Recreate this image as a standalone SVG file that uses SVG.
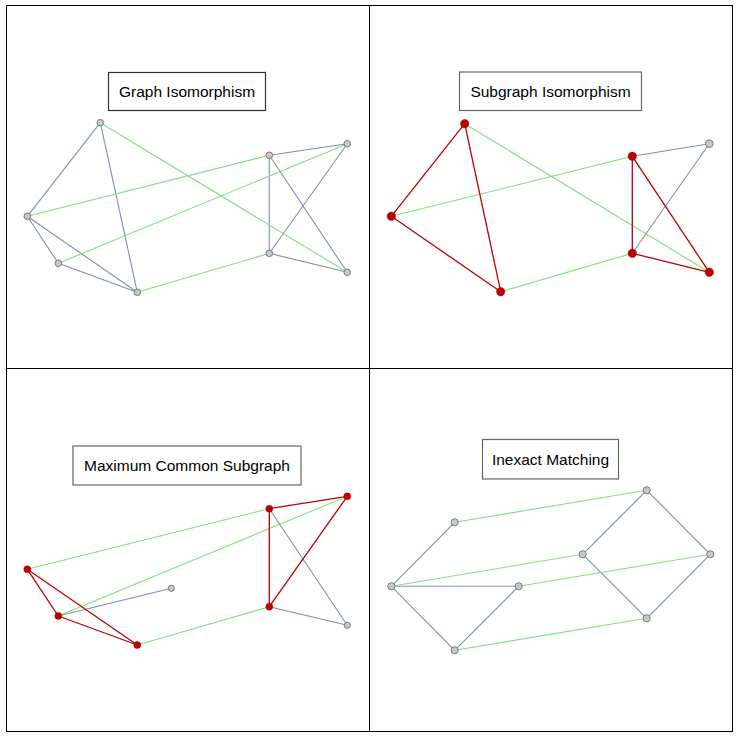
<svg xmlns="http://www.w3.org/2000/svg" width="739" height="737" viewBox="0 0 739 737">
<style>
.frame{fill:none;stroke:#000;stroke-width:1}
.lbl rect{fill:#fff;stroke:#333;stroke-width:1.2}
.lbl2 rect{stroke:#666}
.lbl text{font-family:"Liberation Sans",Arial,sans-serif;font-size:15.5px;fill:#000;text-anchor:middle}
.b{stroke:#7f8fae;stroke-width:1.1;fill:none}
.g{stroke:#80e080;stroke-width:1.1;fill:none}
.r{stroke:#bb0000;stroke-width:1.3;fill:none}
.n{fill:#c8c8c8;stroke:#7a7a7a;stroke-width:1}
.rn{fill:#bb0000;stroke:#aa0000;stroke-width:0.5}
</style>
<rect x="0" y="0" width="739" height="737" fill="#fff"/>
<g id="frame">
<rect class="frame" x="6.5" y="5.5" width="726" height="726"/>
<line class="frame" x1="369.5" y1="5.5" x2="369.5" y2="731.5"/>
<line class="frame" x1="6.5" y1="368.5" x2="732.5" y2="368.5"/>
</g>
<g id="connectors">
<!-- Q1 -->
<line class="b" x1="100.3" y1="122.7" x2="27.3" y2="216.3"/>
<line class="b" x1="100.3" y1="122.7" x2="137.3" y2="292.3"/>
<line class="b" x1="27.3" y1="216.3" x2="58.3" y2="263.3"/>
<line class="b" x1="27.3" y1="216.3" x2="137.3" y2="292.3"/>
<line class="b" x1="58.3" y1="263.3" x2="137.3" y2="292.3"/>
<line class="b" x1="269.3" y1="155.3" x2="347.3" y2="143.7"/>
<line class="b" x1="269.3" y1="155.3" x2="269.3" y2="253.3"/>
<line class="b" x1="269.3" y1="155.3" x2="347.3" y2="272.3"/>
<line class="b" x1="269.3" y1="253.3" x2="347.3" y2="143.7"/>
<line class="b" x1="269.3" y1="253.3" x2="347.3" y2="272.3"/>
<line class="g" x1="100.3" y1="122.7" x2="347.3" y2="272.3"/>
<line class="g" x1="27.3" y1="216.3" x2="269.3" y2="155.3"/>
<line class="g" x1="58.3" y1="263.3" x2="347.3" y2="143.7"/>
<line class="g" x1="137.3" y1="292.3" x2="269.3" y2="253.3"/>
<!-- Q2 -->
<line class="g" x1="464.7" y1="123.7" x2="709.3" y2="272.3"/>
<line class="g" x1="391.3" y1="216.3" x2="632.3" y2="156.3"/>
<line class="g" x1="500.7" y1="291.7" x2="632.3" y2="253.3"/>
<line class="b" x1="632.3" y1="156.3" x2="709.3" y2="143.7"/>
<line class="b" x1="632.3" y1="253.3" x2="709.3" y2="143.7"/>
<line class="r" x1="464.7" y1="123.7" x2="391.3" y2="216.3"/>
<line class="r" x1="464.7" y1="123.7" x2="500.7" y2="291.7"/>
<line class="r" x1="391.3" y1="216.3" x2="500.7" y2="291.7"/>
<line class="r" x1="632.3" y1="156.3" x2="632.3" y2="253.3" stroke-width="2"/>
<line class="r" x1="632.3" y1="156.3" x2="709.3" y2="272.3"/>
<line class="r" x1="632.3" y1="253.3" x2="709.3" y2="272.3"/>
<!-- Q3 -->
<line class="g" x1="27.3" y1="569.3" x2="269.3" y2="508.7"/>
<line class="g" x1="58.3" y1="616" x2="347.3" y2="496.3"/>
<line class="g" x1="137.3" y1="645" x2="269.3" y2="606.7"/>
<line class="b" x1="58.3" y1="616" x2="171.3" y2="588.3"/>
<line class="b" x1="269.3" y1="508.7" x2="347.3" y2="625.3"/>
<line class="b" x1="269.3" y1="606.7" x2="347.3" y2="625.3"/>
<line class="r" x1="27.3" y1="569.3" x2="58.3" y2="616"/>
<line class="r" x1="27.3" y1="569.3" x2="137.3" y2="645"/>
<line class="r" x1="58.3" y1="616" x2="137.3" y2="645"/>
<line class="r" x1="269.3" y1="508.7" x2="347.3" y2="496.3"/>
<line class="r" x1="269.3" y1="508.7" x2="269.3" y2="606.7" stroke-width="2"/>
<line class="r" x1="269.3" y1="606.7" x2="347.3" y2="496.3"/>
<!-- Q4 -->
<line class="b" x1="391.3" y1="586.3" x2="454.7" y2="522.3"/>
<line class="b" x1="391.3" y1="586.3" x2="518.7" y2="586.3" stroke-width="1.6"/>
<line class="b" x1="391.3" y1="586.3" x2="454.7" y2="650.3"/>
<line class="b" x1="518.7" y1="586.3" x2="454.7" y2="650.3"/>
<line class="b" x1="582.7" y1="554.3" x2="646.7" y2="490.3"/>
<line class="b" x1="646.7" y1="490.3" x2="710.3" y2="554.3"/>
<line class="b" x1="582.7" y1="554.3" x2="646.7" y2="618.3"/>
<line class="b" x1="710.3" y1="554.3" x2="646.7" y2="618.3"/>
<line class="g" x1="454.7" y1="522.3" x2="646.7" y2="490.3"/>
<line class="g" x1="391.3" y1="586.3" x2="582.7" y2="554.3"/>
<line class="g" x1="518.7" y1="586.3" x2="710.3" y2="554.3"/>
<line class="g" x1="454.7" y1="650.3" x2="646.7" y2="618.3"/>
</g>
<g id="q1-label" class="lbl"><rect x="108.5" y="72.5" width="157" height="38"/><text x="187" y="97">Graph Isomorphism</text></g>
<g id="q2-label" class="lbl lbl2"><rect x="459.5" y="72" width="182" height="38.5"/><text x="550.5" y="97">Subgraph Isomorphism</text></g>
<g id="q3-label" class="lbl lbl2"><rect x="73" y="446" width="228" height="39"/><text x="187" y="471">Maximum Common Subgraph</text></g>
<g id="q4-label" class="lbl lbl2"><rect x="482.5" y="439.5" width="136" height="39.5"/><text x="550.5" y="465">Inexact Matching</text></g>
<g id="q1-nodes">
<circle id="q1a" class="n" cx="100.3" cy="122.7" r="3.3"/>
<circle id="q1b" class="n" cx="27.3" cy="216.3" r="3.3"/>
<circle id="q1c" class="n" cx="58.3" cy="263.3" r="3.3"/>
<circle id="q1d" class="n" cx="137.3" cy="292.3" r="3.3"/>
<circle id="q1e" class="n" cx="269.3" cy="155.3" r="3.3"/>
<circle id="q1f" class="n" cx="347.3" cy="143.7" r="3.3"/>
<circle id="q1g" class="n" cx="269.3" cy="253.3" r="3.3"/>
<circle id="q1h" class="n" cx="347.3" cy="272.3" r="3.3"/>
</g>
<g id="q2-nodes">
<circle id="q2a" class="rn" cx="464.7" cy="123.7" r="4.2"/>
<circle id="q2b" class="rn" cx="391.3" cy="216.3" r="4.2"/>
<circle id="q2d" class="rn" cx="500.7" cy="291.7" r="4.2"/>
<circle id="q2e" class="rn" cx="632.3" cy="156.3" r="4.2"/>
<circle id="q2f" class="n" cx="709.3" cy="143.7" r="3.8"/>
<circle id="q2g" class="rn" cx="632.3" cy="253.3" r="4.2"/>
<circle id="q2h" class="rn" cx="709.3" cy="272.3" r="4.2"/>
</g>
<g id="q3-nodes">
<circle id="q3b" class="rn" cx="27.3" cy="569.3" r="3.5"/>
<circle id="q3c" class="rn" cx="58.3" cy="616" r="3.5"/>
<circle id="q3d" class="rn" cx="137.3" cy="645" r="3.5"/>
<circle id="q3x" class="n" cx="171.3" cy="588.3" r="3.1"/>
<circle id="q3e" class="rn" cx="269.3" cy="508.7" r="3.5"/>
<circle id="q3f" class="rn" cx="347.3" cy="496.3" r="3.5"/>
<circle id="q3g" class="rn" cx="269.3" cy="606.7" r="3.5"/>
<circle id="q3h" class="n" cx="347.3" cy="625.3" r="3.1"/>
</g>
<g id="q4-nodes">
<circle id="q4a" class="n" cx="391.3" cy="586.3" r="3.6"/>
<circle id="q4b" class="n" cx="454.7" cy="522.3" r="3.6"/>
<circle id="q4c" class="n" cx="518.7" cy="586.3" r="3.6"/>
<circle id="q4d" class="n" cx="454.7" cy="650.3" r="3.6"/>
<circle id="q4e" class="n" cx="582.7" cy="554.3" r="3.6"/>
<circle id="q4f" class="n" cx="646.7" cy="490.3" r="3.6"/>
<circle id="q4g" class="n" cx="710.3" cy="554.3" r="3.6"/>
<circle id="q4h" class="n" cx="646.7" cy="618.3" r="3.6"/>
</g>
</svg>
